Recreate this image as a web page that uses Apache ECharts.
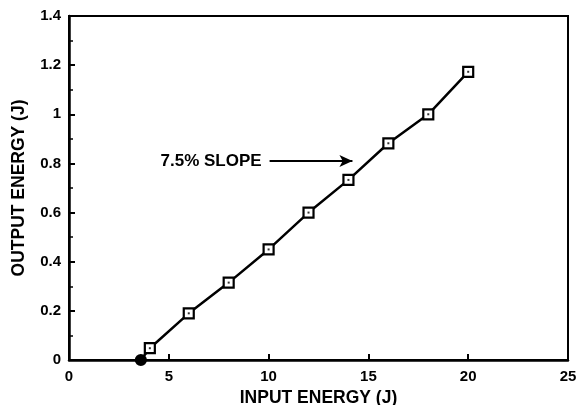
<!DOCTYPE html>
<html>
<head>
<meta charset="utf-8">
<script src="https://cdn.jsdelivr.net/npm/echarts@6/dist/echarts.min.js"></script>
<style>
  html, body { margin: 0; padding: 0; background: #fff; }
  #chart { width: 579px; height: 405px; }
</style>
</head>
<body>
<div id="chart"></div>
<script>
// Laser output energy versus input energy
var inputEnergy  = [3.6, 4.05, 6.0, 8.0, 10.0, 12.0, 14.0, 16.0, 18.0, 20.0];
var outputEnergy = [0.0, 0.048, 0.19, 0.315, 0.45, 0.6, 0.733, 0.882, 1.0, 1.173];
var xTicks = [0, 5, 10, 15, 20, 25];
var yTicks = [0, 0.2, 0.4, 0.6, 0.8, 1, 1.2, 1.4];
var slopeLabel = '7.5% SLOPE';
var slopeArrowFrom = [10.05, 0.81];
var slopeArrowTo = [14.2, 0.81];

var points = inputEnergy.map(function (x, i) { return [x, outputEnergy[i]]; });
var FONT = '"Liberation Sans", Arial, sans-serif';

var chart = echarts.init(document.getElementById('chart'), null, { renderer: 'canvas' });
chart.setOption({
  backgroundColor: '#fff',
  animation: false,
  grid: {
    left: 69, right: 11, top: 16, bottom: 45,
    outerBoundsMode: 'none',
    containLabel: false,
    show: true, borderColor: '#000', borderWidth: 2, backgroundColor: 'transparent'
  },
  xAxis: {
    type: 'value', min: xTicks[0], max: xTicks[xTicks.length - 1], interval: 5,
    name: 'INPUT ENERGY (J)', nameLocation: 'middle', nameGap: 28,
    nameTextStyle: { fontFamily: FONT, fontWeight: 'bold', fontSize: 17.5, color: '#000' },
    axisLine: { show: true, lineStyle: { color: '#000', width: 2.5 } },
    axisTick: { show: true, inside: true, length: 6, lineStyle: { color: '#000', width: 2 } },
    axisLabel: { fontFamily: FONT, fontWeight: 'bold', fontSize: 15, color: '#000', margin: 9 },
    splitLine: { show: false }
  },
  yAxis: {
    type: 'value', min: yTicks[0], max: yTicks[yTicks.length - 1], interval: 0.2,
    name: 'OUTPUT ENERGY (J)', nameLocation: 'middle', nameGap: 41,
    nameTextStyle: { fontFamily: FONT, fontWeight: 'bold', fontSize: 17.5, color: '#000' },
    axisLine: { show: true, lineStyle: { color: '#000', width: 2.5 } },
    axisTick: { show: true, inside: true, length: 6, lineStyle: { color: '#000', width: 2 } },
    minorTick: { show: true, splitNumber: 2, length: 4, lineStyle: { color: '#000', width: 1.5 } },
    axisLabel: {
      fontFamily: FONT, fontWeight: 'bold', fontSize: 15, color: '#000', margin: 8,
      formatter: function (v) { return String(Math.round(v * 10) / 10); }
    },
    splitLine: { show: false }
  },
  series: [
    {
      type: 'line',
      data: points.map(function (p, i) {
        // the threshold point is drawn as a solid dot
        return i === 0
          ? { value: p, symbol: 'circle', symbolSize: 10, itemStyle: { color: '#000' } }
          : { value: p };
      }),
      lineStyle: { color: '#000', width: 2.5 },
      symbol: 'rect',
      symbolSize: 10,
      itemStyle: { color: '#fff', borderColor: '#000', borderWidth: 2.2 },
      z: 3,
      markLine: {
        silent: true,
        symbol: ['none', 'arrow'],
        symbolSize: [9, 13],
        lineStyle: { color: '#000', width: 2, type: 'solid' },
        label: {
          show: true, position: 'start', distance: 8, formatter: slopeLabel,
          fontFamily: FONT, fontWeight: 'bold', fontSize: 17, color: '#000'
        },
        data: [[{ coord: slopeArrowFrom }, { coord: slopeArrowTo }]]
      }
    },
    {
      // centre dot inside each square marker
      type: 'scatter',
      data: points.slice(1),
      symbol: 'rect',
      symbolSize: 2,
      itemStyle: { color: '#000' },
      z: 4
    }
  ]
});
</script>
</body>
</html>
